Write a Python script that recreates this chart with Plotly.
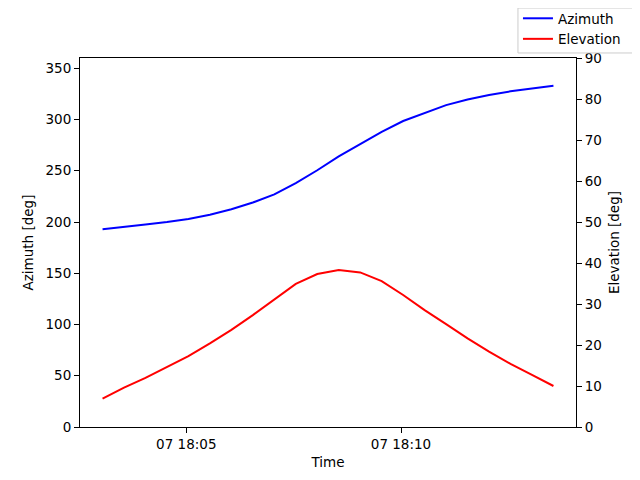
import plotly.graph_objects as go

# Pass samples every 30 s
times = [
    "2024-03-07 18:03:03", "2024-03-07 18:03:33", "2024-03-07 18:04:03",
    "2024-03-07 18:04:33", "2024-03-07 18:05:03", "2024-03-07 18:05:33",
    "2024-03-07 18:06:03", "2024-03-07 18:06:33", "2024-03-07 18:07:03",
    "2024-03-07 18:07:33", "2024-03-07 18:08:03", "2024-03-07 18:08:33",
    "2024-03-07 18:09:03", "2024-03-07 18:09:33", "2024-03-07 18:10:03",
    "2024-03-07 18:10:33", "2024-03-07 18:11:03", "2024-03-07 18:11:33",
    "2024-03-07 18:12:03", "2024-03-07 18:12:33", "2024-03-07 18:13:03",
    "2024-03-07 18:13:33",
]
azimuth = [193, 195, 197.5, 200, 203, 207, 212.5, 219, 227, 238, 250.5,
           264, 276, 288, 298.5, 306.5, 314, 319.5, 324, 327.5, 330.5, 333]
elevation = [6.9, 9.6, 12.0, 14.7, 17.3, 20.4, 23.7, 27.3, 31.1, 34.9, 37.3,
             38.3, 37.7, 35.6, 32.2, 28.5, 25.1, 21.6, 18.4, 15.4, 12.7, 10.0]
x_ticks = ["2024-03-07 18:05:00", "2024-03-07 18:10:00"]
x_range = ["2024-03-07 18:02:31.5", "2024-03-07 18:14:04.5"]

font = dict(family="DejaVu Sans", size=13.5, color="black")

fig = go.Figure()
fig.add_trace(go.Scatter(x=times, y=azimuth, name="Azimuth", mode="lines",
                         line=dict(color="blue", width=2)))
fig.add_trace(go.Scatter(x=times, y=elevation, name="Elevation", mode="lines",
                         line=dict(color="red", width=2), yaxis="y2"))

axis_style = dict(showgrid=False, zeroline=False, showline=True, linecolor="black",
                  linewidth=1, ticks="outside", ticklen=5, tickcolor="black",
                  tickfont=font)

# legend frame drawn as a shape (plotly's own legend box is too tall here)
fig.add_shape(type="rect", xref="paper", yref="paper",
              x0=0.883, x1=1.117, y0=1.0136, y1=1.1355,
              line=dict(color="#cccccc", width=1), fillcolor="white", layer="above")

# the page body adds 8 px on the left and top, so margins are shifted by that
fig.update_layout(
    width=640, height=480,
    margin=dict(l=72, r=72, t=50, b=61, autoexpand=False),
    paper_bgcolor="white", plot_bgcolor="white",
    font=font,
    xaxis=dict(type="date", range=x_range, tickvals=x_ticks, tickformat="%d %H:%M",
               mirror=True, title=dict(text="Time", font=font, standoff=6), **axis_style),
    yaxis=dict(range=[0, 360], tickvals=[0, 50, 100, 150, 200, 250, 300, 350],
               title=dict(text="Azimuth [deg]", font=font, standoff=8), **axis_style),
    yaxis2=dict(range=[0, 90], dtick=10, overlaying="y", side="right",
                title=dict(text="Elevation [deg]", font=font, standoff=8), **axis_style),
    legend=dict(x=0.883, y=1.149, xanchor="left", yanchor="top",
                bgcolor="rgba(0,0,0,0)", borderwidth=0, font=font,
                itemwidth=30, tracegroupgap=0),
)

fig.write_html("out.html")
